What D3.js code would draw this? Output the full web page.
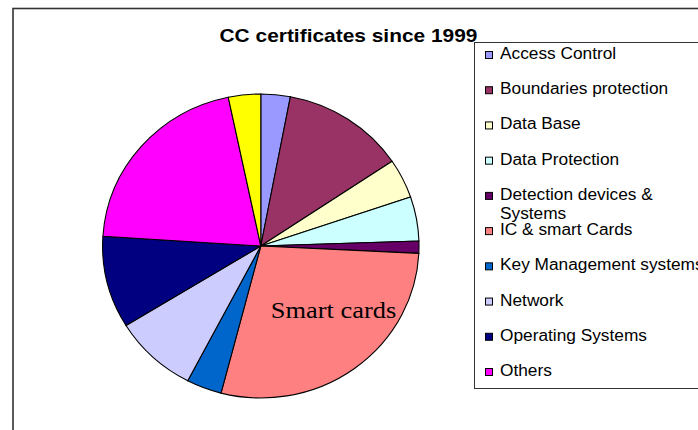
<!DOCTYPE html>
<html><head><meta charset="utf-8">
<script src="https://cdn.jsdelivr.net/npm/d3@7"></script>
<style>html,body{margin:0;padding:0;background:#fff;overflow:hidden}</style>
</head><body><svg id="c" width="698" height="430"></svg>
<script>
const title = "CC certificates since 1999";
const annotation = "Smart cards";
const categories = ["Access Control","Boundaries protection","Data Base","Data Protection","Detection devices & Systems","IC & smart Cards","Key Management systems","Network","Operating Systems","Others","Unlisted"];
const values = [3.0,12.6,4.2,4.7,1.3,28.3,3.6,8.6,9.8,20.7,3.3];
const colors = ["#9999FF","#993366","#FFFFCC","#CCFFFF","#660066","#FF8080","#0066CC","#CCCCFF","#000080","#FF00FF","#FFFF00"];
const legendLabels = [["Access Control"],["Boundaries protection"],["Data Base"],["Data Protection"],["Detection devices &","Systems"],["IC & smart Cards"],["Key Management systems"],["Network"],["Operating Systems"],["Others"]];

const svg = d3.select("#c");
function stretchText(sel, k){
  sel.each(function(){
    const w = this.getComputedTextLength();
    d3.select(this).attr("textLength", w*k).attr("lengthAdjust","spacingAndGlyphs");
  });
}

// outer frame
svg.append("rect").attr("x",13).attr("y",8.5).attr("width",800).attr("height",600)
  .attr("fill","none").attr("stroke","#333").attr("stroke-width",1.6);

// pie
const cx = 260.8, cy = 246, rx = 158.2, ry = 152;
const data = categories.map((c,i)=>({name:c, value:values[i], color:colors[i]}));
const pie = d3.pie().value(d=>d.value).sort(null).startAngle(0).endAngle(2*Math.PI);
const arc = d3.arc().innerRadius(0).outerRadius(ry);
const g = svg.append("g").attr("transform",`translate(${cx},${cy}) scale(${rx/ry},1)`);
g.selectAll("path").data(pie(data)).join("path")
  .attr("d",arc).attr("fill",d=>d.data.color)
  .attr("stroke","#000").attr("stroke-width",1.1).attr("vector-effect","non-scaling-stroke");

// annotation
svg.append("text").attr("x",cx+72.7).attr("y",cy+72).attr("text-anchor","middle")
  .attr("font-family","'Liberation Serif','Times New Roman',serif").attr("font-size",24)
  .attr("fill","#000").text(annotation).call(stretchText, 1.1);

// legend
svg.append("rect").attr("x",474.5).attr("y",42.5).attr("width",400).attr("height",346)
  .attr("fill","#fff").attr("stroke","#333").attr("stroke-width",1);
const ly = d3.scalePoint().domain(d3.range(legendLabels.length)).range([59,376]);
const lg = svg.append("g");
legendLabels.forEach((lines,i)=>{
  const y = ly(i);
  lg.append("rect").attr("x",485.5).attr("y",y-7.5).attr("width",7).attr("height",7)
    .attr("fill",colors[i]).attr("stroke","#000").attr("stroke-width",1);
  lines.forEach((t,j)=>{
    lg.append("text").attr("x",500).attr("y",y+j*19)
      .attr("font-family","'Liberation Sans',Arial,sans-serif").attr("font-size",16)
      .attr("fill","#000").text(t).call(stretchText, 1.08);
  });
});

// title
svg.append("text").attr("x",348.5).attr("y",42).attr("text-anchor","middle")
  .attr("font-family","'Liberation Sans',Arial,sans-serif").attr("font-weight","bold")
  .attr("font-size",19).attr("fill","#000").text(title).call(stretchText, 1.1);
</script></body></html>
